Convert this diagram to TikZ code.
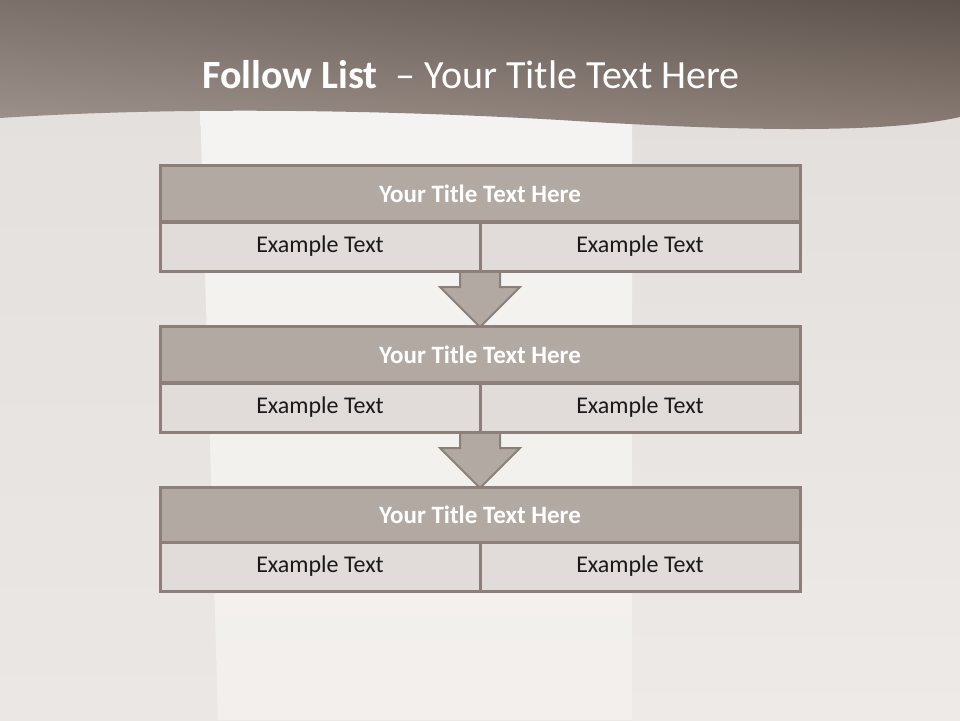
\documentclass[tikz,border=0pt]{standalone}
\usepackage{fontspec}
\setmainfont{Carlito}
\usetikzlibrary{calc,shadings}
\definecolor{bgleft}{HTML}{E3DFDC}
\definecolor{bgleftlow}{HTML}{EAE7E4}
\definecolor{panel}{HTML}{F5F3F1}
\definecolor{panellow}{HTML}{F2EFEC}
\definecolor{bgright}{HTML}{E1DDDA}
\definecolor{bgrightlow}{HTML}{EDEAE7}
\definecolor{hdrul}{HTML}{7C706A}
\definecolor{hdrur}{HTML}{5D524C}
\definecolor{hdrll}{HTML}{A0948E}
\definecolor{hdrlr}{HTML}{8C7E77}
\definecolor{titlefill}{HTML}{B3A9A3}
\definecolor{cellfill}{HTML}{E1DCDA}
\definecolor{edge}{HTML}{8C7F79}
\tikzset{
  titlebox/.style={draw=edge, line width=3pt, fill=titlefill, minimum width=640pt, minimum height=56pt,
    inner sep=0pt, text=white, font=\fontsize{25}{30}\selectfont\bfseries},
  cellbox/.style={draw=edge, line width=3pt, fill=cellfill, minimum width=320pt, minimum height=49pt,
    inner sep=0pt, text=black!90, font=\fontsize{24}{28}\selectfont},
  flowarrow/.style={draw=edge, line width=2pt, fill=titlefill, line join=miter},
}
\begin{document}
\begin{tikzpicture}[x=1pt,y=-1pt]
\useasboundingbox (0,0) rectangle (960,720);
% background
\shade[top color=bgleft, bottom color=bgleftlow] (0,0) rectangle (960,720);
\shade[top color=bgright, bottom color=bgrightlow] (632,0) rectangle (960,720);
\shade[top color=panel, bottom color=panellow] (200,100) -- (632,100) -- (632,720) -- (218,720) -- cycle;
% header band
\shade[upper left=hdrul, upper right=hdrur, lower left=hdrll, lower right=hdrlr]
  (0,0) -- (960,0) -- (960,117) .. controls (880,135) and (720,130) .. (560,120)
  .. controls (350,108) and (150,108) .. (0,118) -- cycle;
\node[text=white, font=\fontsize{40}{44}\selectfont, anchor=base] (hdr) at (471,88)
  {\textbf{Follow List}\ \ – Your Title Text Here};
% arrow end points
\coordinate (a1) at (480,271);
\coordinate (a2) at (480,432);
\coordinate (b1) at (480,327);
\coordinate (b2) at (480,488);
\foreach \k in {1,2} {
  \draw[flowarrow] ($(a\k)+(-20,0)$) -- ($(a\k)+(-20,16)$) -- ($(a\k)+(-40,16)$) -- (b\k)
    -- ($(a\k)+(40,16)$) -- ($(a\k)+(20,16)$) -- ($(a\k)+(20,0)$);
}
\node[titlebox] (t1) at (480,193.5) {Your Title Text Here};
\node[cellbox] (l1) at (320,246.5) {Example Text};
\node[cellbox] (r1) at (640,246.5) {Example Text};
\node[titlebox] (t2) at (480,354.5) {Your Title Text Here};
\node[cellbox] (l2) at (320,407.5) {Example Text};
\node[cellbox] (r2) at (640,407.5) {Example Text};
\node[titlebox, minimum height=55pt] (t3) at (480,514.5) {Your Title Text Here};
\node[cellbox] (l3) at (320,566.5) {Example Text};
\node[cellbox] (r3) at (640,566.5) {Example Text};
\end{tikzpicture}
\end{document}
